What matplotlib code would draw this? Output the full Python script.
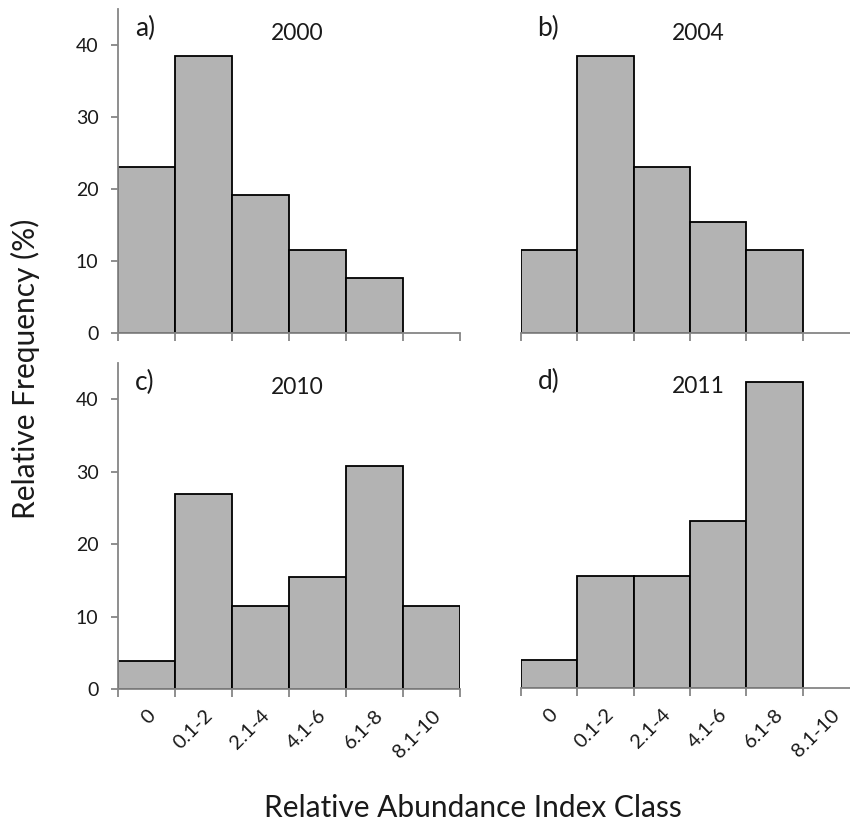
import matplotlib
matplotlib.use("Agg")
import matplotlib.pyplot as plt
import numpy as np

plt.rcParams['font.family'] = ['Lato', 'DejaVu Sans']

categories = ["0", "0.1-2", "2.1-4", "4.1-6", "6.1-8", "8.1-10"]
years = ["2000", "2004", "2010", "2011"]
letters = ["a)", "b)", "c)", "d)"]
freq_2000 = [23.1, 38.5, 19.2, 11.5, 7.7, 0.0]
freq_2004 = [11.5, 38.5, 23.1, 15.4, 11.5, 0.0]
freq_2010 = [3.8, 26.9, 11.5, 15.4, 30.8, 11.5]
freq_2011 = [3.8, 15.4, 15.4, 23.1, 42.3, 0.0]
series = [freq_2000, freq_2004, freq_2010, freq_2011]

W, H = 850, 824
fig = plt.figure(figsize=(W / 100, H / 100), dpi=100)

# axes rectangles in pixels: left, right, y0 (baseline), y_top (value 45)
rects = [
    (118, 460, 333, 9),
    (520.7, 859.1, 333, 9),
    (118, 460, 689, 363),
    (520.7, 859.1, 688, 362),
]

spine_col = "#868686"
bar_col = "#b3b3b3"
txt_col = "#1a1a1a"

for i, (vals, yr, let, r) in enumerate(zip(series, years, letters, rects)):
    l, rr, y0, yt = r
    ax = fig.add_axes([l / W, 1 - y0 / H, (rr - l) / W, (y0 - yt) / H])
    x = np.arange(len(categories))
    nz = [j for j, v in enumerate(vals) if v > 0]
    ax.bar(x[nz], np.array(vals)[nz], width=1.0, align='edge', color=bar_col,
           edgecolor='black', linewidth=1.3, zorder=2)
    ax.set_xlim(0, 6)
    ax.set_ylim(0, 45)
    for s in ['top', 'right']:
        ax.spines[s].set_visible(False)
    ax.spines['bottom'].set_color(spine_col)
    ax.spines['bottom'].set_linewidth(1.3)
    ax.spines['bottom'].set_zorder(3)
    left_panel = i in (0, 2)
    if left_panel:
        ax.spines['left'].set_color(spine_col)
        ax.spines['left'].set_linewidth(1.3)
        ax.set_yticks([0, 10, 20, 30, 40])
        ax.tick_params(axis='y', direction='out', length=5, width=1.3,
                       color=spine_col, labelsize=14, pad=9, labelcolor=txt_col)
    else:
        ax.spines['left'].set_visible(False)
        ax.set_yticks([])
    ax.set_xticks(np.arange(0, 7))
    ax.set_xticklabels([])
    ax.tick_params(axis='x', which='major', direction='out', length=6, width=1.3,
                   color=spine_col)
    if i >= 2:
        ax.set_xticks(np.arange(6) + 0.5, minor=True)
        ax.set_xticklabels(categories, minor=True, rotation=45, ha='right',
                           va='top', rotation_mode='anchor')
        ax.tick_params(axis='x', which='minor', length=0, pad=13, labelsize=14.5,
                       labelcolor=txt_col)
    ax.text(0.3, 42.3, let, fontsize=19, ha='left', va='center', color=txt_col)
    ax.text(3.15, 41.6, yr, fontsize=16.5, ha='center', va='center', color=txt_col)

fig.text(35 / W, 1 - 368.5 / H, "Relative Frequency (%)", rotation=90, fontsize=21.5,
         ha='center', va='baseline', rotation_mode='anchor', color=txt_col)
fig.text(473 / W, 1 - 817 / H, "Relative Abundance Index Class", fontsize=21.5,
         ha='center', va='baseline', color=txt_col)

fig.savefig("out.png", dpi=100)
